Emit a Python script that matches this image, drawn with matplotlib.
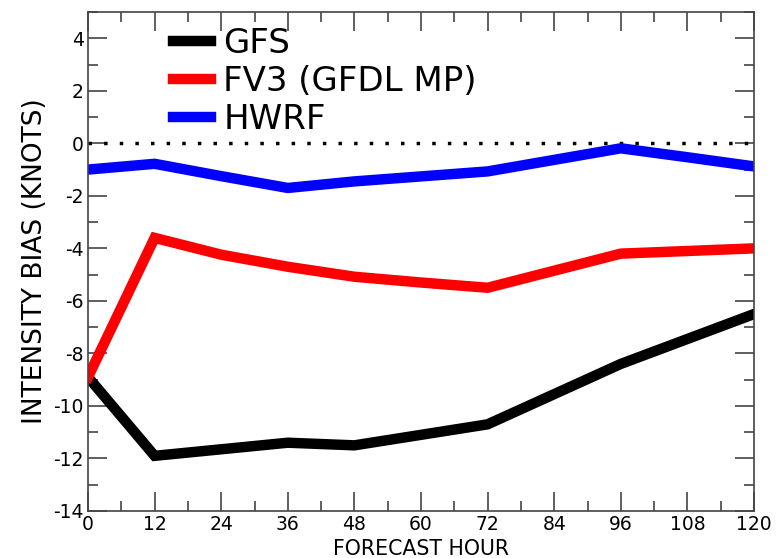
import matplotlib
matplotlib.use("Agg")
import matplotlib.pyplot as plt
from matplotlib.ticker import MultipleLocator

plt.rcParams['font.family'] = ['DejaVu Sans']
plt.rcParams['axes.unicode_minus'] = False

hours = [0, 12, 24, 36, 48, 60, 72, 84, 96, 108, 120]
gfs = [-8.9, -11.9, -11.65, -11.4, -11.5, -11.1, -10.7, -9.55, -8.4, -7.45, -6.5]
fv3 = [-8.9, -3.6, -4.24, -4.7, -5.08, -5.3, -5.5, -4.85, -4.2, -4.1, -4.0]
hwrf = [-1.0, -0.78, -1.25, -1.7, -1.45, -1.26, -1.07, -0.63, -0.19, -0.53, -0.88]
names = ["GFS", "FV3 (GFDL MP)", "HWRF"]
colors = ["black", "#ff0000", "#0000ff"]

fig = plt.figure(figsize=(7.79, 5.58), dpi=100)
ax = fig.add_axes([88/779, 1 - 511/558, (754-88)/779, (511-12)/558])

ax.plot([0, 120], [0, 0], color="black", linestyle=(0, (1, 3.5)), linewidth=2.5)
for y, n, c in zip([gfs, fv3, hwrf], names, colors):
    ax.plot(hours, y, color=c, linewidth=7.5, label=n, solid_joinstyle="miter")

ax.set_xlim(0, 120)
ax.set_ylim(-14, 5)
ax.set_xticks(range(0, 121, 12))
ax.set_yticks(range(-14, 5, 2))
ax.xaxis.set_minor_locator(MultipleLocator(6))
ax.yaxis.set_minor_locator(MultipleLocator(1))
ax.tick_params(which="both", direction="in", top=True, right=True, color="#444444",
               labelsize=13.5, pad=3)
ax.tick_params(which="major", length=14, width=1.2)
ax.tick_params(which="minor", length=7, width=1.2)
for s in ax.spines.values():
    s.set_color("#444444")
    s.set_linewidth(1.2)

fig.text((88 + 754) / 2 / 779, 1 - 555/558, "FORECAST HOUR", fontsize=14.8,
         ha="center", va="baseline")
ax.set_ylabel("INTENSITY BIAS (KNOTS)", fontsize=19, labelpad=4)

leg = ax.legend(loc="upper left", bbox_to_anchor=((173-88)/666, (511-27)/499),
                frameon=False, fontsize=24.5, handlelength=1.13, handletextpad=0.35,
                labelspacing=0.15, borderaxespad=0.0, borderpad=0.0)

fig.savefig("out.png", dpi=100)
